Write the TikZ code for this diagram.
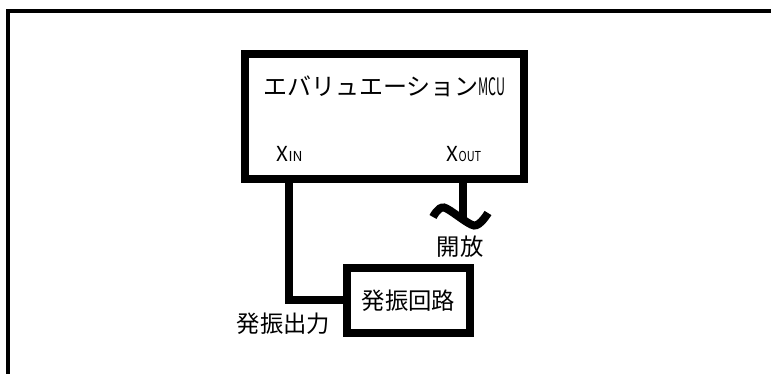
\documentclass[tikz,border=0pt]{standalone}
\usepackage{fontspec}
\setmainfont{Noto Sans CJK JP}
\usepackage{graphicx}
\begin{document}
\begin{tikzpicture}[x=0.75pt,y=-0.75pt,
  heavy/.style={line width=6pt, line join=miter},
  boxnode/.style={draw, line width=6pt, inner sep=0pt, outer sep=0pt},
  lbl/.style={inner sep=0pt, font=\fontsize{17.5}{20}\selectfont}]
\useasboundingbox (0,0) rectangle (771,374);
% outer frame (continues beyond the picture on the right and bottom)
\draw[line width=3pt] (8,374) -- (8,11) -- (771,11);
% MCU box
\node[boxnode, minimum width=209.6pt, minimum height=93.75pt] (mcu) at (384.75,116.5) {};
\node[lbl, font=\fontsize{18}{20}\selectfont] (title) at (384.5,86.5) {エバリュエーション\scalebox{0.52}[1]{MCU}};
\node[lbl, anchor=base west, font=\fontsize{15.5}{18}\selectfont] (xin) at (276.5,162) {X{\fontsize{10.3}{12}\selectfont IN}};
\node[lbl, anchor=base west, font=\fontsize{15.5}{18}\selectfont] (xout) at (446.5,162) {X{\fontsize{10.3}{12}\selectfont\scalebox{0.8}[1]{OUT}}};
% oscillator circuit
\node[boxnode, minimum width=92.25pt, minimum height=49.1pt, font=\fontsize{17.5}{20}\selectfont] (osc) at (408.5,300.25) {発振回路};
% pins
\coordinate (pinin) at (288.5,179);
\coordinate (pinout) at (463,179);
\coordinate (wavemid) at (463,219);
\draw[heavy] (pinin) |- (osc.west);
\draw[heavy] (pinout) -- (wavemid);
\draw[heavy, line cap=butt] plot[smooth, tension=0.5] coordinates {(433,217) (444,207.5) (474,225.5) (488,213)};
% labels
\node[lbl] (open) at (460,246.5) {開放};
\node[lbl] (oscout) at (283.5,324) {発振出力};
\end{tikzpicture}
\end{document}
